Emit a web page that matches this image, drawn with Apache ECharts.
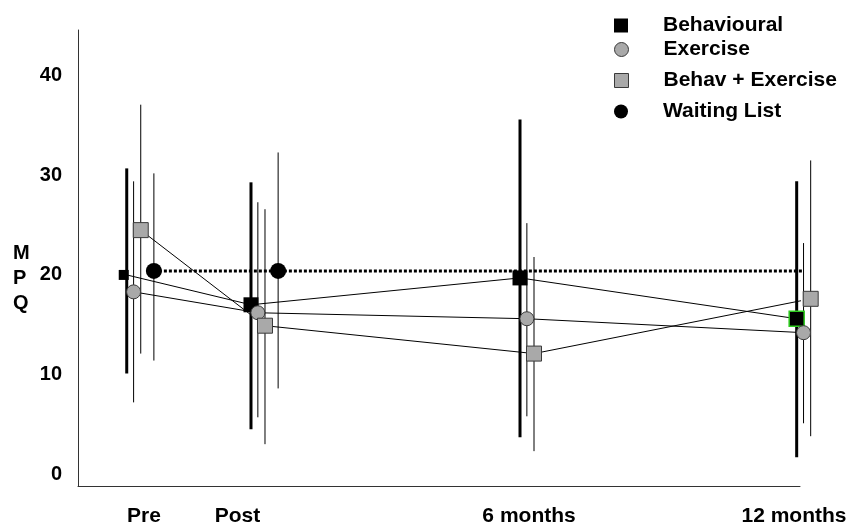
<!DOCTYPE html>
<html><head><meta charset="utf-8">
<script src="https://cdn.jsdelivr.net/npm/echarts@6/dist/echarts.min.js"></script>
<style>html,body{margin:0;padding:0;background:#fff}#c{width:851px;height:528px}</style>
</head><body><div id="c"></div>
<script>
// ---- data ----
const timeLabels = ['Pre', 'Post', '6 months', '12 months'];
const timePos = [6.75, 23.96, 61.22, 99.54];      // x-axis positions of the time points
const labelPos = [9.14, 22.09, 62.47, 99.17];     // x-axis positions of the tick labels
const groupNames = ['Behavioural', 'Exercise', 'Behav + Exercise', 'Waiting List'];
const groupOffset = [0, 0.95, 1.94, 3.76];

const behavMean = [20.0, 17.0, 19.7, 15.6];
const behavLow  = [10.1, 4.5, 3.7, 1.7];
const behavHigh = [30.7, 29.3, 35.6, 29.4];

const exMean = [18.3, 16.2, 15.6, 14.2];
const exLow  = [7.2, 5.7, 5.8, 5.1];
const exHigh = [29.4, 27.3, 25.2, 23.2];

const bxMean = [24.5, 14.9, 12.1, 17.6];
const bxLow  = [12.1, 3.0, 2.3, 3.8];
const bxHigh = [37.1, 26.6, 21.8, 31.5];

const wlMean = [20.4, 20.4];
const wlLow  = [11.4, 8.6];
const wlHigh = [30.2, 32.3];

const yTicks = [0, 10, 20, 30, 40];

// ---- chart ----
const FONT = '"Liberation Sans", Arial, sans-serif';
const GRAY = '#a9a9a9';
const EDGE = '#3a3a3a';

function errBars(name, low, high, off, width) {
  return {
    type: 'custom', name: name, silent: true, z: 1,
    data: low.map((l, i) => [timePos[i] + off, l, high[i]]),
    encode: { x: 0, y: [1, 2] },
    renderItem: function (params, api) {
      const a = api.coord([api.value(0), api.value(1)]);
      const b = api.coord([api.value(0), api.value(2)]);
      return { type: 'line', shape: { x1: a[0], y1: a[1], x2: b[0], y2: b[1] },
               style: { stroke: '#000', lineWidth: width } };
    }
  };
}
function pts(means, off) {
  return means.map((v, i) => [timePos[i] + off, v]);
}

const behavData = pts(behavMean, groupOffset[0]).map((p, i) => {
  const d = { value: p };
  if (i === 0) { d.symbolSize = 10; d.symbolOffset = [-3, 0]; }
  if (i === 3) { d.itemStyle = { borderColor: '#2ecc1f', borderWidth: 1.5 }; }
  return d;
});

const wlData = pts(wlMean, groupOffset[3]).map(p => ({ value: p }));
// dotted waiting-list reference continued to the last time point
wlData.push({ value: [timePos[3] + groupOffset[2], wlMean[wlMean.length - 1]], symbol: 'none' });

const legendTops = [10, 34, 65, 96];
const legendIcons = ['rect', 'circle', 'rect', 'circle'];
const legendStyles = [
  { color: '#000', borderWidth: 0 },
  { color: GRAY, borderColor: EDGE, borderWidth: 1 },
  { color: GRAY, borderColor: EDGE, borderWidth: 1 },
  { color: '#000', borderWidth: 0 }
];
const legendSizes = [14, 14, 14, 14];

const option = {
  animation: false,
  backgroundColor: '#fff',
  grid: { left: 78, right: 51, top: 30, bottom: 42 },
  xAxis: {
    type: 'value', min: 0, max: 100,
    axisLine: { show: true, onZero: false, lineStyle: { color: '#333', width: 1 } },
    axisTick: { show: false },
    splitLine: { show: false },
    axisLabel: {
      customValues: labelPos,
      formatter: v => timeLabels[labelPos.indexOf(v)] || '',
      margin: 20,
      color: '#000', fontFamily: FONT, fontWeight: 'bold', fontSize: 21
    }
  },
  yAxis: {
    type: 'value', min: -1.2, max: 44.6,
    axisLine: { show: true, onZero: false, lineStyle: { color: '#333', width: 1 } },
    axisTick: { show: false },
    splitLine: { show: false },
    axisLabel: {
      customValues: yTicks,
      margin: 16,
      color: '#000', fontFamily: FONT, fontWeight: 'bold', fontSize: 20
    }
  },
  legend: groupNames.map((n, i) => ({
    data: [n], orient: 'vertical', left: 609, top: legendTops[i],
    icon: legendIcons[i], itemWidth: legendSizes[i], itemHeight: legendSizes[i],
    itemStyle: legendStyles[i],
    lineStyle: { width: 0, opacity: 0 },
    selectedMode: false,
    textStyle: { fontFamily: FONT, fontWeight: 'bold', fontSize: 21, color: '#000',
                 padding: [0, 0, 9, 30] }
  })),
  graphic: [{
    type: 'text', left: 13, top: 241,
    style: { text: 'M\nP\nQ', font: 'bold 20px ' + FONT, lineHeight: 25, fill: '#000' }
  }],
  series: [
    errBars('Behavioural SD', behavLow, behavHigh, groupOffset[0], 3),
    errBars('Exercise SD', exLow, exHigh, groupOffset[1], 1),
    errBars('Behav + Exercise SD', bxLow, bxHigh, groupOffset[2], 1),
    errBars('Waiting List SD', wlLow, wlHigh, groupOffset[3], 1),
    {
      name: 'Waiting List', type: 'line', z: 2, clip: false,
      data: wlData, symbol: 'circle', symbolSize: 16,
      itemStyle: { color: '#000' },
      lineStyle: { color: '#000', width: 3, type: [3, 2] }
    },
    {
      name: 'Behavioural', type: 'line', z: 3, clip: false,
      data: behavData, symbol: 'rect', symbolSize: 15,
      itemStyle: { color: '#000' },
      lineStyle: { color: '#000', width: 1 }
    },
    {
      name: 'Exercise', type: 'line', z: 3, clip: false,
      data: pts(exMean, groupOffset[1]), symbol: 'circle', symbolSize: 14,
      itemStyle: { color: GRAY, borderColor: EDGE, borderWidth: 1 },
      lineStyle: { color: '#000', width: 1 }
    },
    {
      name: 'Behav + Exercise', type: 'line', z: 3, clip: false,
      data: pts(bxMean, groupOffset[2]), symbol: 'rect', symbolSize: 15,
      itemStyle: { color: GRAY, borderColor: EDGE, borderWidth: 1 },
      lineStyle: { color: '#000', width: 1 }
    }
  ]
};

const chart = echarts.init(document.getElementById('c'), null, { renderer: 'canvas' });
chart.setOption(option);
</script>
</body></html>
